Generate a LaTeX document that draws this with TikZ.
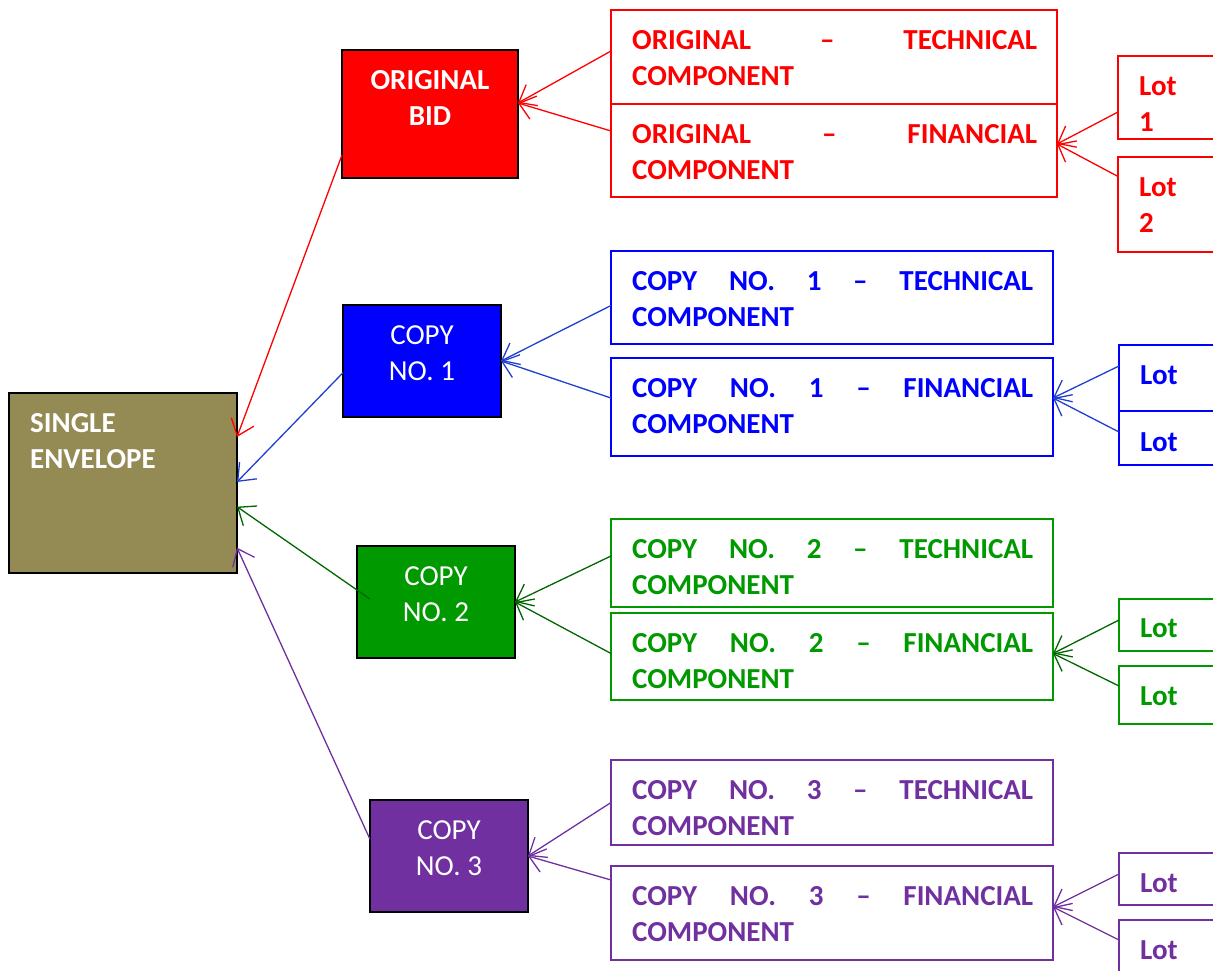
\documentclass[tikz,border=0pt]{standalone}
\usepackage{fontspec}
\setmainfont{Carlito}
\usetikzlibrary{arrows.meta}
\definecolor{cred}{HTML}{FF0000}
\definecolor{cblue}{HTML}{0000FF}
\definecolor{cgreen}{HTML}{009900}
\definecolor{cpurple}{HTML}{7030A0}
\definecolor{colive}{HTML}{948A54}
\definecolor{lblue}{HTML}{1F3FD0}
\definecolor{lgreen}{HTML}{006600}
\newcommand\comptext[3]{\parbox[t]{#1}{\makebox[#1]{#2}\\#3}}
\tikzset{
  fbox/.style={draw=black, line width=2pt, inner sep=0pt, outer sep=0pt, anchor=north west, rectangle},
  obox/.style={draw=#1, line width=1.8pt, inner sep=0pt, outer sep=0pt, anchor=north west, rectangle},
  txt/.style={inner sep=0pt, anchor=base west, font=\bfseries\fontsize{29}{36}\selectfont},
  ctxt/.style={inner sep=0pt, anchor=base, text=white, font=\fontsize{29}{36}\selectfont},
  conn/.style={draw=#1, line width=1.3pt, -{Straight Barb[length=15pt,width=24pt,line width=1.3pt]}},
}
\begin{document}
\begin{tikzpicture}[x=1pt,y=-1pt]
\useasboundingbox (0,0) rectangle (1213,971);
\clip (0,0) rectangle (1213,971);
% filled boxes
\node[fbox, fill=colive, minimum width=228pt, minimum height=180pt] (env) at (9,393) {};
\node[fbox, fill=cred, minimum width=176pt, minimum height=128pt] (ob) at (342,50) {};
\node[fbox, fill=cblue, minimum width=158pt, minimum height=112pt] (c1) at (343,305) {};
\node[fbox, fill=cgreen, minimum width=158pt, minimum height=112pt] (c2) at (357,546) {};
\node[fbox, fill=cpurple, minimum width=158pt, minimum height=112pt] (c3) at (370,800) {};
% outlined component boxes
\node[obox=cred, minimum width=446pt, minimum height=94pt] (ot) at (611,10) {};
\node[obox=cred, minimum width=446pt, minimum height=93pt] (of) at (611,104) {};
\node[obox=cblue, minimum width=442pt, minimum height=93pt] (bt) at (611,251) {};
\node[obox=cblue, minimum width=442pt, minimum height=98pt] (bf) at (611,358) {};
\node[obox=cgreen, minimum width=442pt, minimum height=88pt] (gt) at (611,519) {};
\node[obox=cgreen, minimum width=442pt, minimum height=87pt] (gf) at (611,613) {};
\node[obox=cpurple, minimum width=442pt, minimum height=85pt] (pt) at (611,760) {};
\node[obox=cpurple, minimum width=442pt, minimum height=94pt] (pf) at (611,866) {};
% lot boxes
\node[obox=cred, minimum width=100pt, minimum height=83pt] (rl1) at (1118,56) {};
\node[obox=cred, minimum width=100pt, minimum height=95pt] (rl2) at (1118,157) {};
\node[obox=cblue, minimum width=100pt, minimum height=66pt] (bl1) at (1119,345) {};
\node[obox=cblue, minimum width=100pt, minimum height=54pt] (bl2) at (1119,411) {};
\node[obox=cgreen, minimum width=100pt, minimum height=52pt] (gl1) at (1119,599) {};
\node[obox=cgreen, minimum width=100pt, minimum height=58pt] (gl2) at (1119,666) {};
\node[obox=cpurple, minimum width=100pt, minimum height=52pt] (pl1) at (1119,853) {};
\node[obox=cpurple, minimum width=100pt, minimum height=60pt] (pl2) at (1119,920) {};
% texts in filled boxes
\node[txt, text=white] (envt) at ([xshift=21pt,yshift=-39.5pt]env.north west) {\parbox[t]{200pt}{SINGLE\\ENVELOPE}};
\node[ctxt, font=\bfseries\fontsize{29}{36}\selectfont] (obt) at ([yshift=-39.5pt]ob.north) {\parbox[t]{170pt}{\centering ORIGINAL\\BID}};
\node[ctxt] (c1t) at ([yshift=-39.5pt]c1.north) {\parbox[t]{150pt}{\centering COPY\\NO. 1}};
\node[ctxt] (c2t) at ([yshift=-39.5pt]c2.north) {\parbox[t]{150pt}{\centering COPY\\NO. 2}};
\node[ctxt] (c3t) at ([yshift=-39.5pt]c3.north) {\parbox[t]{150pt}{\centering COPY\\NO. 3}};
% texts in component boxes
\node[txt, text=cred] (ott) at ([xshift=21pt,yshift=-39.5pt]ot.north west) {\comptext{405pt}{ORIGINAL\hfill–\hfill TECHNICAL}{COMPONENT}};
\node[txt, text=cred] (oft) at ([xshift=21pt,yshift=-39.5pt]of.north west) {\comptext{405pt}{ORIGINAL\hfill–\hfill FINANCIAL}{COMPONENT}};
\node[txt, text=cblue] (btt) at ([xshift=21pt,yshift=-39.5pt]bt.north west) {\comptext{401pt}{COPY\hfill NO.\hfill 1\hfill –\hfill TECHNICAL}{COMPONENT}};
\node[txt, text=cblue] (bft) at ([xshift=21pt,yshift=-39.5pt]bf.north west) {\comptext{401pt}{COPY\hfill NO.\hfill 1\hfill –\hfill FINANCIAL}{COMPONENT}};
\node[txt, text=cgreen] (gtt) at ([xshift=21pt,yshift=-39.5pt]gt.north west) {\comptext{401pt}{COPY\hfill NO.\hfill 2\hfill –\hfill TECHNICAL}{COMPONENT}};
\node[txt, text=cgreen] (gft) at ([xshift=21pt,yshift=-39.5pt]gf.north west) {\comptext{401pt}{COPY\hfill NO.\hfill 2\hfill –\hfill FINANCIAL}{COMPONENT}};
\node[txt, text=cpurple] (ptt) at ([xshift=21pt,yshift=-39.5pt]pt.north west) {\comptext{401pt}{COPY\hfill NO.\hfill 3\hfill –\hfill TECHNICAL}{COMPONENT}};
\node[txt, text=cpurple] (pft) at ([xshift=21pt,yshift=-39.5pt]pf.north west) {\comptext{401pt}{COPY\hfill NO.\hfill 3\hfill –\hfill FINANCIAL}{COMPONENT}};
% lot texts
\node[txt, text=cred] (rl1t) at ([xshift=21pt,yshift=-39.5pt]rl1.north west) {\parbox[t]{70pt}{Lot\\1}};
\node[txt, text=cred] (rl2t) at ([xshift=21pt,yshift=-39.5pt]rl2.north west) {\parbox[t]{70pt}{Lot\\2}};
\node[txt, text=cblue] (bl1t) at ([xshift=21pt,yshift=-39.5pt]bl1.north west) {Lot};
\node[txt, text=cblue] (bl2t) at ([xshift=21pt,yshift=-40.5pt]bl2.north west) {Lot};
\node[txt, text=cgreen] (gl1t) at ([xshift=21pt,yshift=-38.5pt]gl1.north west) {Lot};
\node[txt, text=cgreen] (gl2t) at ([xshift=21pt,yshift=-39pt]gl2.north west) {Lot};
\node[txt, text=cpurple] (pl1t) at ([xshift=21pt,yshift=-39.5pt]pl1.north west) {Lot};
\node[txt, text=cpurple] (pl2t) at ([xshift=21pt,yshift=-39.5pt]pl2.north west) {Lot};
% connectors: components -> bid/copy
\draw[conn=cred] ([yshift=6pt]ot.west) -- ([yshift=11pt]ob.east);
\draw[conn=cred] ([yshift=19.5pt]of.west) -- ([yshift=11pt]ob.east);
\draw[conn=lblue] ([yshift=-8pt]bt.west) -- (c1.east);
\draw[conn=lblue] ([yshift=9pt]bf.west) -- (c1.east);
\draw[conn=lgreen] ([yshift=7pt]gt.west) -- (c2.east);
\draw[conn=lgreen] ([yshift=3pt]gf.west) -- (c2.east);
\draw[conn=cpurple] (pt.west) -- (c3.east);
\draw[conn=cpurple] ([yshift=33pt]pf.west) -- (c3.east);
% connectors: lots -> financial
\draw[conn=cred] ([yshift=-14.5pt]rl1.west) -- ([yshift=6.5pt]of.east);
\draw[conn=cred] ([yshift=28pt]rl2.west) -- ([yshift=6.5pt]of.east);
\draw[conn=lblue] ([yshift=12pt]bl1.west) -- ([yshift=9pt]bf.east);
\draw[conn=lblue] ([yshift=6pt]bl2.west) -- ([yshift=9pt]bf.east);
\draw[conn=lgreen] ([yshift=5pt]gl1.west) -- ([yshift=3pt]gf.east);
\draw[conn=lgreen] ([yshift=9pt]gl2.west) -- ([yshift=3pt]gf.east);
\draw[conn=cpurple] ([yshift=5pt]pl1.west) -- ([yshift=6pt]pf.east);
\draw[conn=cpurple] ([yshift=10pt]pl2.west) -- ([yshift=6pt]pf.east);
% connectors: bid/copies -> single envelope
\draw[conn=cred] ([yshift=-41pt]ob.west) -- ([yshift=46pt]env.east);
\draw[conn=lblue] ([yshift=-11.7pt]c1.west) -- ([yshift=1pt]env.east);
\draw[conn=lgreen] ([xshift=13pt,yshift=3pt]c2.west) -- ([yshift=-23.7pt]env.east);
\draw[conn=cpurple] ([yshift=16.7pt]c3.west) -- ([yshift=-64.7pt]env.east);
\end{tikzpicture}
\end{document}
